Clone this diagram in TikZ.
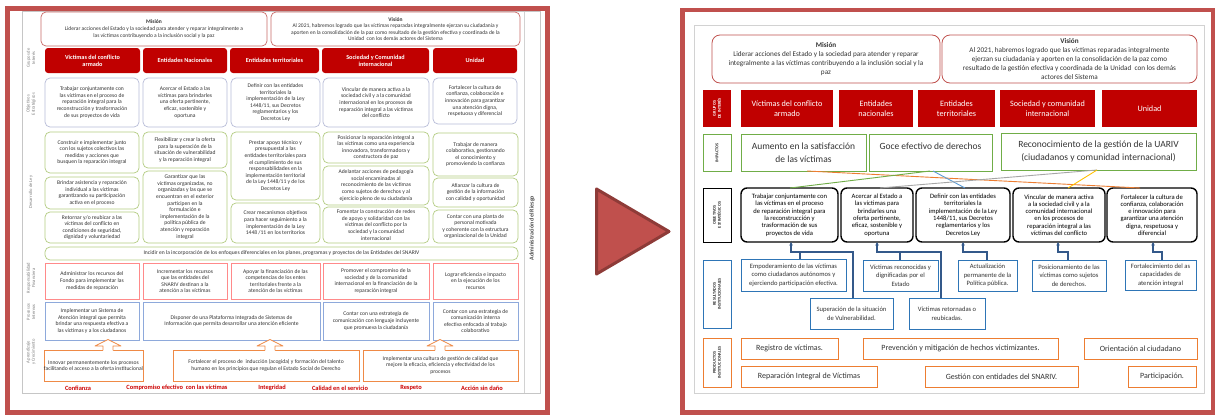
\documentclass[tikz,border=0pt]{standalone}
\usepackage{fontspec}
\setmainfont{Carlito}
\usetikzlibrary{arrows.meta}
\definecolor{fr}{HTML}{C0504D}
\definecolor{frd}{HTML}{8E3B38}
\definecolor{dred}{HTML}{C00000}
\definecolor{grn}{HTML}{70AD47}
\definecolor{lgrn}{HTML}{B3CC82}
\definecolor{blu}{HTML}{2E75B6}
\definecolor{lblu}{HTML}{8EA9DB}
\definecolor{org}{HTML}{ED7D31}
\definecolor{pnk}{HTML}{FF8A8A}
\definecolor{lobj}{HTML}{B8BCD8}
\definecolor{cn}{HTML}{34598A}
\definecolor{ylw}{HTML}{FFC000}
\definecolor{sky}{HTML}{5B9BD5}
\definecolor{txt}{HTML}{333333}
\newcommand\mybox[7]{\node[#2, minimum width={(#5)-(#3)}, minimum height={(#6)-(#4)}] (#1) at ({((#3)+(#5))/2},{((#4)+(#6))/2}) {#7};}
\tikzset{
  every node/.style={inner sep=0pt, outer sep=0pt, align=center},
  lmv/.style={draw=fr!85, line width=0.7pt, rounded corners=5pt, font=\fontsize{5.5}{6.6}\selectfont, text=txt},
  lhd/.style={fill=dred, rounded corners=3pt, font=\bfseries\fontsize{6.2}{7}\selectfont, text=white},
  ltx/.style={line width=0.7pt, rounded corners=5pt, font=\fontsize{5.6}{6.6}\selectfont, text=txt},
  lob/.style={ltx, draw=lobj},
  lgr/.style={ltx, draw=lgrn},
  lfi/.style={ltx, draw=pnk, rounded corners=0pt},
  lpr/.style={ltx, draw=lblu, rounded corners=0pt},
  lap/.style={ltx, draw=org!90, rounded corners=0pt},
  llab/.style={rotate=90, font=\fontsize{4.6}{5.2}\selectfont, text=black!50},
  lval/.style={font=\bfseries\fontsize{6.4}{7}\selectfont, text=red!80!black},
  rmv/.style={draw=fr, line width=0.8pt, rounded corners=8pt, font=\fontsize{7.2}{8.8}\selectfont, text=txt},
  rhd/.style={fill=dred, font=\fontsize{8.2}{10}\selectfont, text=white},
  rlab/.style={rotate=90, line width=1pt, font=\bfseries\fontsize{4.3}{5}\selectfont},
  rim/.style={draw=grn, line width=1pt, font=\fontsize{9.5}{12.5}\selectfont, text=txt},
  rob/.style={draw=black, line width=1.4pt, rounded corners=6pt, font=\fontsize{6.6}{7.3}\selectfont, text=black},
  rre/.style={draw=blu, line width=1pt, font=\fontsize{6.6}{8.6}\selectfont, text=txt},
  rpr/.style={draw=org, line width=1pt, font=\fontsize{8}{9.6}\selectfont, text=txt},
  conn/.style={draw=cn, line width=1.1pt, -{Stealth[length=3.5pt,width=3.5pt]}},
  connp/.style={draw=cn, line width=1.1pt},
  iline/.style={line width=0.9pt},
}
\begin{document}
\begin{tikzpicture}[x=1pt,y=-1pt]
\useasboundingbox (0,0) rectangle (1217,415);
\fill[white] (0,0) rectangle (1217,415);

% ================= LEFT PANEL =================
\draw[fr, line width=5pt] (7.5,8.5) rectangle (547.5,412);
\draw[gray!45, line width=0.5pt] (22,11.5) rectangle (540,393);
\draw[gray!35, line width=0.5pt] (524,12) -- (524,393);
\node[rotate=90, font=\bfseries\fontsize{6}{7}\selectfont, text=black!70] (ladm) at (532,228) {Administración del Riesgo};

% row labels
\node[llab] (lr1) at (31,58) {Grupos de\\Interés};
\node[llab] (lr2) at (31,104) {Objetivos\\Estratégicos};
\node[llab] (lr3) at (31,192) {Desarrollo de Ley};
\node[llab] (lr4) at (31,278) {Responsabilidad\\Financiera};
\node[llab] (lr5) at (31,312) {Procesos\\Internos};
\node[llab] (lr6) at (31,352) {Aprendizaje\\y Crecimiento};

% mision vision
\mybox{lmis}{lmv}{41}{12}{267}{46}{{\bfseries Misión}\\Liderar acciones del Estado y la sociedad para atender y reparar integralmente a\\las víctimas contribuyendo a la inclusión social y la paz}
\mybox{lvis}{lmv}{271}{12}{520}{46}{{\bfseries Visión}\\Al 2021, habremos logrado que las víctimas reparadas integralmente ejerzan su ciudadanía y\\aporten en la consolidación de la paz como resultado de la gestión efectiva y coordinada de la\\Unidad \ con los demás actores del Sistema}

% headers
\mybox{lh1}{lhd}{45}{48}{140}{73}{Víctimas del conflicto\\armado}
\mybox{lh2}{lhd}{143}{48}{227}{73}{Entidades Nacionales}
\mybox{lh3}{lhd}{230}{48}{319}{73}{Entidades territoriales}
\mybox{lh4}{lhd}{322}{48}{429}{73}{Sociedad y Comunidad\\internacional}
\mybox{lh5}{lhd}{433}{48}{517}{73}{Unidad}

% objectives
\mybox{lo1}{lob}{45}{78}{139}{127}{Trabajar conjuntamente con\\las víctimas en el proceso de\\reparación integral para la\\reconstrucción y trasformación\\de sus proyectos de vida}
\mybox{lo2}{lob}{143}{78}{227}{127}{Acercar el Estado a las\\víctimas para brindarles\\una oferta pertinente,\\eficaz, sostenible y\\oportuna}
\mybox{lo3}{lob}{231}{78}{320}{127}{Definir con las entidades\\territoriales la\\implementación de la Ley\\1448/11, sus Decretos\\reglamentarios y los\\Decretos Ley}
\mybox{lo4}{lob}{323}{78}{429}{127}{Vincular de manera activa a la\\sociedad civil y a la comunidad\\internacional en los procesos de\\reparación integral a las víctimas\\del conflicto}
\mybox{lo5}{lob}{433}{78}{517}{124}{Fortalecer la cultura de\\confianza, colaboración e\\innovación para garantizar\\una atención digna,\\respetuosa y diferencial}

% green area
\mybox{lg1a}{lgr}{45}{132}{139}{173}{Construir e implementar junto\\con los sujetos colectivos las\\medidas y acciones que\\busquen la reparación integral}
\mybox{lg1b}{lgr}{45}{177}{139}{209}{Brindar asistencia y reparación\\individual a las víctimas\\garantizando su participación\\activa en el proceso}
\mybox{lg1c}{lgr}{45}{212}{139}{243}{Retornar y/o reubicar a las\\víctimas del conflicto en\\condiciones de seguridad,\\dignidad y voluntariedad}
\mybox{lg2a}{lgr}{143}{132}{227}{168}{Flexibilizar y crear la oferta\\para la superación de la\\situación de vulnerabilidad\\y la reparación integral}
\mybox{lg2b}{lgr}{143}{171}{227}{243}{Garantizar que las\\víctimas organizadas, no\\organizadas y las que se\\encuentran en el exterior\\participen en la\\formulación e\\implementación de la\\política pública de\\atención y reparación\\integral}
\mybox{lg3a}{lgr}{231}{132}{320}{200}{Prestar apoyo técnico y\\presupuestal a las\\entidades territoriales para\\el cumplimiento de sus\\responsabilidades en la\\implementación territorial\\de la Ley 1448/11 y de los\\Decretos Ley}
\mybox{lg3b}{lgr}{231}{203}{320}{243}{Crear mecanismos objetivos\\para hacer seguimiento a la\\implementación de la Ley\\1448 /11 en los territorios}
\mybox{lg4a}{lgr}{323}{132}{429}{163}{Posicionar la reparación integral a\\las víctimas como una experiencia\\innovadora, transformadora y\\constructora de paz}
\mybox{lg4b}{lgr}{323}{166}{429}{205}{Adelantar acciones de pedagogía\\social encaminadas al\\reconocimiento de las víctimas\\como sujetos de derechos y al\\ejercicio pleno de su ciudadanía}
\mybox{lg4c}{lgr}{323}{207}{429}{243}{Fomentar la construcción de redes\\de apoyo y solidaridad con las\\víctimas del conflicto por la\\sociedad y la comunidad\\internacional}
\mybox{lg5a}{lgr}{433}{133}{518}{176}{Trabajar de manera\\colaborativa, gestionando\\el conocimiento y\\promoviendo la confianza}
\mybox{lg5b}{lgr}{433}{178}{518}{207}{Afianzar la cultura de\\gestión de la información\\con calidad y oportunidad}
\mybox{lg5c}{lgr}{433}{210}{518}{243}{Contar con una planta de\\personal motivada\\y coherente con la estructura\\organizacional de la Unidad}
\mybox{lbar}{lgr}{45}{247}{518}{260}{Incidir en la incorporación de los enfoques diferenciales en los planes, programas y proyectos de las Entidades del SNARIV}

% financial
\mybox{lf1}{lfi}{45}{263}{139}{299}{Administrar los recursos del\\Fondo para implementar las\\medidas de reparación}
\mybox{lf2}{lfi}{143}{263}{227}{299}{Incrementar los recursos\\que las entidades del\\SNARIV destinan a la\\atención a las víctimas}
\mybox{lf3}{lfi}{231}{263}{320}{299}{Apoyar la financiación de las\\competencias de los entes\\territoriales frente a la\\atención de las víctimas}
\mybox{lf4}{lfi}{323}{263}{429}{299}{Promover el compromiso de la\\sociedad y de la comunidad\\internacional en la financiación de la\\reparación integral}
\mybox{lf5}{lfi}{433}{263}{518}{299}{Lograr eficiencia e impacto\\en la ejecución de los\\recursos}

% internal processes
\mybox{lp1}{lpr}{45}{302}{139}{340}{Implementar un Sistema de\\Atención integral que permita\\brindar una respuesta efectiva a\\las víctimas y a los ciudadanos}
\mybox{lp2}{lpr}{143}{302}{320}{340}{Disponer de una Plataforma Integrada de Sistemas de\\Información que permita desarrollar una atención eficiente}
\mybox{lp4}{lpr}{323}{302}{429}{340}{Contar con una estrategia de\\comunicación con lenguaje incluyente\\que promueva la ciudadanía}
\mybox{lp5}{lpr}{433}{302}{518}{340}{Contar con una estrategia de\\comunicación interna\\efectiva enfocada al trabajo\\colaborativo}

% learning
\mybox{la1}{lap}{47}{350}{140}{381}{Innovar permanentemente los procesos\\facilitando el acceso a la oferta institucional}
\mybox{la2}{lap}{173}{350}{359}{381}{Fortalecer el proceso de \ inducción (acogida) y formación del talento\\humano en los principios que regulan el Estado Social de Derecho}
\mybox{la3}{lap}{363}{350}{518}{381}{Implementar una cultura de gestión de calidad que\\mejore la eficacia, eficiencia y efectividad de los\\procesos}

% block arrows
\foreach \cx in {108,270,440}{
  \fill[white] (\cx-5,351) -- (\cx-5,346) -- (\cx-13,346) -- (\cx,339.5) -- (\cx+13,346) -- (\cx+5,346) -- (\cx+5,351) -- cycle;
  \draw[org!90, line width=0.7pt, line join=round] (\cx-5,350.4) -- (\cx-5,346) -- (\cx-13,346) -- (\cx,339.5) -- (\cx+13,346) -- (\cx+5,346) -- (\cx+5,350.4);
}

% values
\node[lval] (v1) at (78,388) {Confianza};
\node[lval] (v2) at (177,388) {Compromiso efectivo \ con las víctimas};
\node[lval] (v3) at (272,388) {Integridad};
\node[lval] (v4) at (340,388) {Calidad en el servicio};
\node[lval] (v5) at (411,388) {Respeto};
\node[lval] (v6) at (482,388) {Acción sin daño};

% ================= ARROW =================
\draw[frd, fill=fr, line width=3pt, line join=round] (596.5,189) -- (669,231.5) -- (596.5,274) -- cycle;

% ================= RIGHT PANEL =================
\draw[fr, line width=4.5pt] (682.5,10) rectangle (1213,412.5);
\draw[gray!35, line width=0.5pt] (694,25) rectangle (1204,393);

\mybox{rmis}{rmv}{712}{35}{940}{83}{{\bfseries Misión}\\Liderar acciones del Estado y la sociedad para atender y reparar\\integralmente a las víctimas contribuyendo a la inclusión social y la\\paz}
\mybox{rvis}{rmv}{942}{35}{1197}{83}{{\bfseries Visión}\\Al 2021, habremos logrado que las víctimas reparadas integralmente\\ejerzan su ciudadanía y aporten en la consolidación de la paz como\\resultado de la gestión efectiva y coordinada de la Unidad \ con los demás\\actores del Sistema}

% label boxes
\node[rlab, fill=dred, text=white, minimum width=37, minimum height=28] (rl1) at (717,108.5) {GRUPOS\\DE INTERÉS};
\node[rlab, draw=grn, text=black!80, minimum width=37, minimum height=28] (rl2) at (717,153) {IMPACTOS};
\node[rlab, draw=black, text=black!80, minimum width=54, minimum height=28] (rl3) at (717,215) {OBJETIVOS\\ESTRATÉGICOS};
\node[rlab, draw=blu, text=black!80, minimum width=68, minimum height=28] (rl4) at (717,294) {RESULTADOS\\INSTITUCIONALES};
\node[rlab, draw=org, text=black!80, minimum width=49, minimum height=28] (rl5) at (717,362.5) {PRODUCTOS\\INSTITUCIONALES};

% headers
\mybox{rh1}{rhd}{741}{90}{833}{127}{Víctimas del conflicto\\armado}
\mybox{rh2}{rhd}{839}{90}{913}{127}{Entidades\\nacionales}
\mybox{rh3}{rhd}{918}{90}{995}{127}{Entidades\\territoriales}
\mybox{rh4}{rhd}{1000}{90}{1095}{127}{Sociedad y comunidad\\internacional}
\mybox{rh5}{rhd}{1102}{90}{1197}{127}{Unidad}

% impacts
\mybox{ri1}{rim}{741}{134}{866}{171}{Aumento en la satisfacción\\de las víctimas}
\mybox{ri2}{rim}{869}{134}{992}{171}{Goce efectivo de derechos\\\mbox{}}
\mybox{ri3}{rim}{1001}{133}{1196}{170}{Reconocimiento de la gestión de la UARIV\\(ciudadanos y comunidad internacional)}

% objectives
\mybox{ro1}{rob}{741}{188}{838}{242}{Trabajar conjuntamente con\\las víctimas en el proceso\\de reparación integral para\\la reconstrucción y\\trasformación de sus\\proyectos de vida}
\mybox{ro2}{rob}{841}{188}{913}{242}{Acercar al Estado a\\las víctimas para\\brindarles una\\oferta pertinente,\\eficaz, sostenible y\\oportuna}
\mybox{ro3}{rob}{916}{188}{1010}{242}{Definir con las entidades\\territoriales la\\implementación de la Ley\\1448/11, sus Decretos\\reglamentarios y los\\Decretos Ley}
\mybox{ro4}{rob}{1013}{188}{1105}{242}{Vincular de manera activa\\a la sociedad civil y a la\\comunidad internacional\\en los procesos de\\reparación integral a las\\víctimas del conflicto}
\mybox{ro5}{rob}{1107}{188}{1197}{242}{Fortalecer la cultura de\\confianza, colaboración\\e innovación para\\garantizar una atención\\digna, respetuosa y\\diferencial}

% impact lines
\draw[iline, org] (807,0 |- ri1.south) -- (1140,0 |- ro5.north);
\draw[iline, grn] (930,0 |- ri2.south) -- (790,0 |- ro1.north);
\draw[iline, sky] (933,0 |- ri2.south) -- (965,0 |- ro3.north);
\draw[iline, gray!70] (1097,0 |- ri3.south) -- (880,0 |- ro2.north);
\draw[iline, ylw] (1097,0 |- ri3.south) -- (1068,0 |- ro4.north);

% results
\mybox{ra}{rre}{741}{259}{846}{291}{Empoderamiento de las víctimas\\como ciudadanos autónomos y\\ejerciendo participación efectiva.}
\mybox{rb}{rre}{810}{298}{893}{329}{Superación de la situación\\de Vulnerabilidad.}
\mybox{rc}{rre}{863}{260}{938}{291}{Víctimas reconocidas y\\dignificadas por el\\Estado}
\mybox{rd}{rre}{909}{298}{985}{329}{Víctimas retornadas o\\reubicadas.}
\mybox{re}{rre}{958}{260}{1017}{291}{Actualización\\permanente de la\\Política pública.}
\mybox{rf}{rre}{1032}{260}{1106}{291}{Posicionamiento de las\\víctimas como sujetos\\de derechos.}
\mybox{rg}{rre}{1125}{260}{1196}{290}{Fortalecimiento del as\\capacidades de\\atención integral}

% result connectors
\draw[conn] (800,0 |- ra.north) -- (800,252) -- (791,252) -- (791,0 |- ro1.south);
\draw[connp] (853,0 |- rb.north) -- (853,252) -- (800,252);
\draw[conn] (900,0 |- rc.north) -- (900,252) -- (877,252) -- (877,0 |- ro2.south);
\draw[connp] (941,0 |- rd.north) -- (941,252) -- (900,252);
\draw[conn] (987,0 |- re.north) -- (987,252) -- (963,252) -- (963,0 |- ro3.south);
\draw[conn] (1068,0 |- rf.north) -- (1068,252) -- (1058,252) -- (1058,0 |- ro4.south);
\draw[conn] (1162,0 |- rg.north) -- (1162,252) -- (1153,252) -- (1153,0 |- ro5.south);

% products
\mybox{rp1}{rpr}{741}{338}{838}{359}{Registro de víctimas.}
\mybox{rp2}{rpr}{863}{338}{1058}{359}{Prevención y mitigación de hechos victimizantes.}
\mybox{rp3}{rpr}{1084}{338}{1197}{359}{Orientación al ciudadano}
\mybox{rp4}{rpr}{741}{366}{877}{387}{Reparación Integral de Víctimas}
\mybox{rp5}{rpr}{925}{366}{1078}{387}{Gestión con entidades del SNARIV.}
\mybox{rp6}{rpr}{1128}{366}{1196}{387}{Participación.}
\end{tikzpicture}
\end{document}
